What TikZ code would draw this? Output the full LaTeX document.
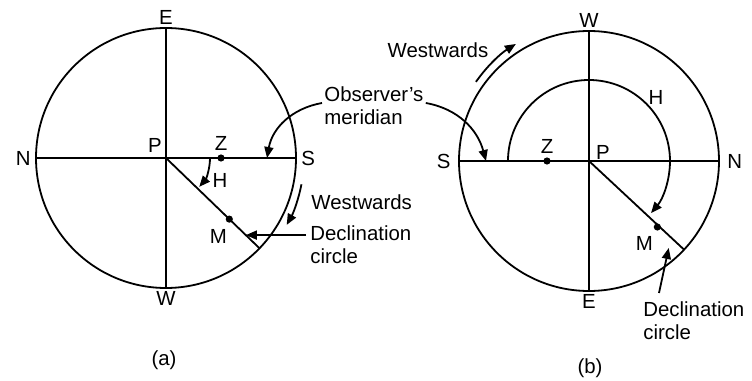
\documentclass[tikz,border=0pt]{standalone}
\usepackage{fontspec}
\setmainfont{Liberation Sans}
\usetikzlibrary{arrows.meta,calc}

\begin{document}
\begin{tikzpicture}[
  x=0.5pt,y=0.5pt,
  >={Triangle[length=5.5pt,width=4.5pt]},
  rim/.style={line width=0.9pt},
  dot/.style={circle,fill,inner sep=0pt,minimum size=3.6pt},
  every node/.style={font=\fontsize{10.2}{11.5}\selectfont,inner sep=1pt}
]
  \useasboundingbox (0,0) rectangle (752,381);

  % (a)
  \coordinate (Pa) at (166,223);
  \draw[rim] (Pa) circle (130);
  \draw[rim] ($(Pa)+(180:130)$) coordinate (Na) -- ($(Pa)+(0:130)$) coordinate (Sa);
  \draw[rim] ($(Pa)+(90:130)$) coordinate (Ea) -- ($(Pa)+(270:130)$) coordinate (Wa);
  \draw[rim] (Pa) -- ($(Pa)+(-44:130)$) coordinate (Ra);
  \node[above=0.5pt] (labEa) at (Ea) {E};
  \node[below=0.5pt] (labWa) at (Wa) {W};
  \node[left=1.5pt] (labNa) at (Na) {N};
  \node[right=1.5pt] (labSa) at (Sa) {S};
  \node (labPa) at ($(Pa)+(-11,13)$) {P};
  \node[dot] (Za) at ($(Pa)+(55,0)$) {};
  \node (labZa) at ($(Za)+(0,15)$) {Z};
  \node[dot] (Ma) at ($(Pa)+(-44:88)$) {};
  \node (labMa) at ($(Ma)+(-11,-17)$) {M};
  \draw[rim,->] ($(Pa)+(0:44)$) arc[start angle=0,end angle=-41,radius=44];
  \node (labHa) at ($(Pa)+(54,-22)$) {H};
  \coordinate (Oa) at ($(Pa)+(101,0)$);
  \draw[rim,->] ($(Pa)+(-11:138)$) arc[start angle=-11,end angle=-29,radius=138];
  \node[anchor=west] (wwa) at (309,179) {Westwards};
  \node[anchor=west,align=left,inner sep=2pt] (deca) at (306,136.5) {Declination\\circle};
  \coordinate (Da) at ($(Pa)+(-44:111)$);
  \draw[rim,->] (deca.west |- Da) -- (Da);
  \node (capa) at (164,21) {(a)};

  % shared label
  \node[anchor=west,align=left] (obs) at (322,275) {Observer's\\meridian};
  \draw[rim,->] ([yshift=1.5pt]obs.west) to[out=190,in=80] (Oa);

  % (b)
  \coordinate (Pb) at (589,220);
  \draw[rim] (Pb) circle (130);
  \draw[rim] ($(Pb)+(180:130)$) coordinate (Sb) -- ($(Pb)+(0:130)$) coordinate (Nb);
  \draw[rim] ($(Pb)+(90:130)$) coordinate (Wb) -- ($(Pb)+(270:130)$) coordinate (Eb);
  \draw[rim] (Pb) -- ($(Pb)+(-43:130)$) coordinate (Rb);
  \node[above=0.5pt] (labWb) at (Wb) {W};
  \node[below=0.5pt] (labEb) at (Eb) {E};
  \node[left=3pt] (labSb) at (Sb) {S};
  \node[right=3pt] (labNb) at (Nb) {N};
  \node (labPb) at ($(Pb)+(14,9)$) {P};
  \node[dot] (Zb) at ($(Pb)+(-42,0)$) {};
  \node (labZb) at ($(Zb)+(0,15)$) {Z};
  \node[dot] (Mb) at ($(Pb)+(-44:95)$) {};
  \node (labMb) at ($(Mb)+(-13,-16)$) {M};
  \draw[rim,->] ($(Pb)+(180:81)$) arc[start angle=180,end angle=-40,radius=81];
  \node (labHb) at ($(Pb)+(67,64)$) {H};
  \coordinate (Ob) at ($(Pb)+(-103,0)$);
  \draw[rim,->] ([yshift=1.5pt]obs.east) to[out=-10,in=105] (Ob);
  \draw[rim,->] ($(Pb)+(145:138)$) arc[start angle=145,end angle=122,radius=138];
  \node (wwb) at (438,331) {Westwards};
  \node[anchor=north west,align=left] (decb) at (641,82) {Declination\\circle};
  \coordinate (Db) at ($(Pb)+(-47.5:118)$);
  \draw[rim,->] ([xshift=9pt,yshift=3pt]decb.north west) -- (Db);
  \node (capb) at (590,13) {(b)};
\end{tikzpicture}
\end{document}
